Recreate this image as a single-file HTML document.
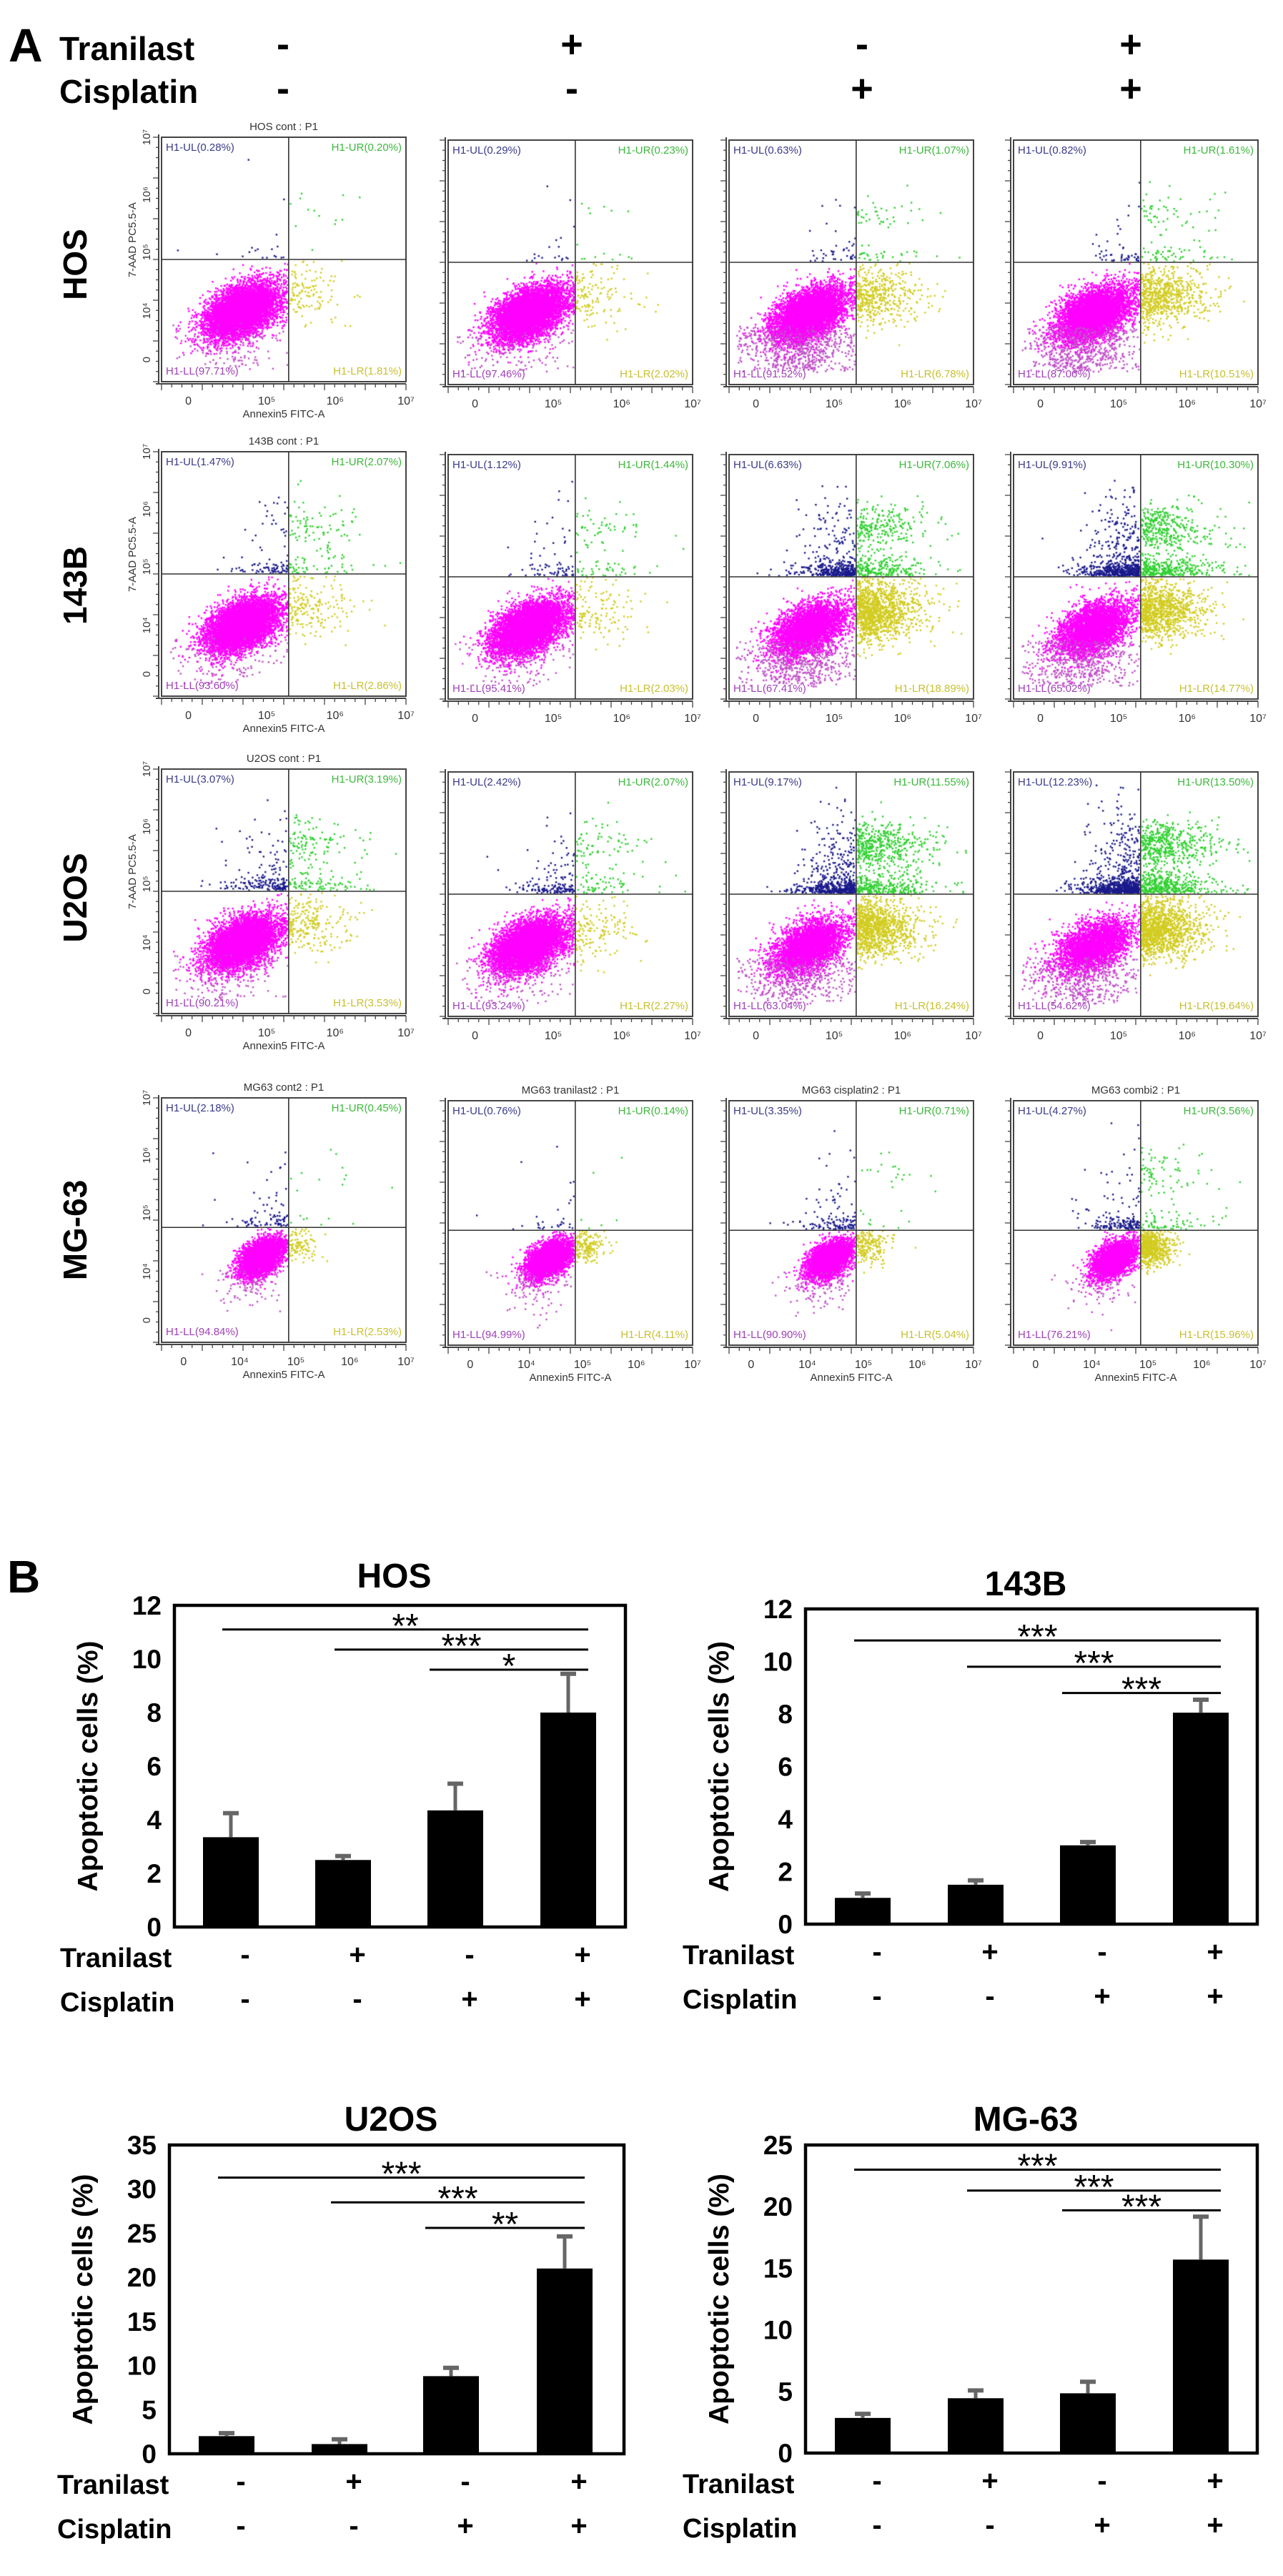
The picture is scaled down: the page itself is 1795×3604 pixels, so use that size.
<!DOCTYPE html>
<html><head><meta charset="utf-8">
<style>
html,body{margin:0;padding:0;background:#fff;}
#wrap{position:relative;width:1795px;height:3604px;overflow:hidden;}
#dots{position:absolute;left:0;top:0;}
#fig{position:absolute;left:0;top:0;}
text{font-family:"Liberation Sans",Arial,sans-serif;}
</style></head>
<body>
<div id="wrap">
<canvas id="dots" width="1795" height="3604"></canvas>
<svg id="fig" width="1795" height="3604" xmlns="http://www.w3.org/2000/svg"></svg>
</div>
<script>
// ===== Panel A data =====
const cellLines = ['HOS','143B','U2OS','MG-63'];
const treatTranilast = ['-','+','-','+'];
const treatCisplatin = ['-','-','+','+'];
const hosQuadrants = [[0.28,0.20,97.71,1.81],[0.29,0.23,97.46,2.02],[0.63,1.07,91.52,6.78],[0.82,1.61,87.06,10.51]];
const b143Quadrants = [[1.47,2.07,93.60,2.86],[1.12,1.44,95.41,2.03],[6.63,7.06,67.41,18.89],[9.91,10.30,65.02,14.77]];
const u2osQuadrants = [[3.07,3.19,90.21,3.53],[2.42,2.07,93.24,2.27],[9.17,11.55,63.04,16.24],[12.23,13.50,54.62,19.64]];
const mg63Quadrants = [[2.18,0.45,94.84,2.53],[0.76,0.14,94.99,4.11],[3.35,0.71,90.90,5.04],[4.27,3.56,76.21,15.96]];
const plotTitles = [['HOS cont : P1','','',''],['143B cont : P1','','',''],['U2OS cont : P1','','',''],['MG63 cont2 : P1','MG63 tranilast2 : P1','MG63 cisplatin2 : P1','MG63 combi2 : P1']];
const xTickLabels = ['0','10⁵','10⁶','10⁷'];
const xTickLabelsMG = ['0','10⁴','10⁵','10⁶','10⁷'];
const yTickLabels = ['10⁷','10⁶','10⁵','10⁴','0'];

// ===== Panel B data =====
const hosValues = [3.35,2.5,4.35,8.0];
const hosErrors = [0.95,0.2,1.05,1.5];
const hosTicks = [0,2,4,6,8,10,12];
const hosSigStars = ['**','***','*'];
const hosSigLevels = [11.1,10.35,9.6];
const b143Values = [1.0,1.5,3.0,8.05];
const b143Errors = [0.22,0.22,0.18,0.55];
const b143Ticks = [0,2,4,6,8,10,12];
const b143SigStars = ['***','***','***'];
const b143SigLevels = [10.8,9.8,8.8];
const u2osValues = [2.0,1.1,8.8,21.0];
const u2osErrors = [0.5,0.7,1.1,3.8];
const u2osTicks = [0,5,10,15,20,25,30,35];
const u2osSigStars = ['***','***','**'];
const u2osSigLevels = [31.3,28.5,25.6];
const mg63Values = [2.85,4.45,4.85,15.7];
const mg63Errors = [0.45,0.75,1.05,3.6];
const mg63Ticks = [0,5,10,15,20,25];
const mg63SigStars = ['***','***','***'];
const mg63SigLevels = [23.0,21.3,19.7];
const sigFrom = [0,1,2];

const NS='http://www.w3.org/2000/svg';
const svg=document.getElementById('fig');
function mk(tag,attrs,parent,txt){const e=document.createElementNS(NS,tag);for(const k in attrs)e.setAttribute(k,attrs[k]);if(txt!==undefined)e.textContent=txt;(parent||svg).appendChild(e);return e;}

// ---------- Panel A header ----------
let t;
t=mk('text',{x:12,y:86,'font-size':66,'font-weight':'bold'},svg,'A');

t=mk('text',{x:83,y:84,'font-size':46,'font-weight':'bold'},svg,'Tranilast');

t=mk('text',{x:83,y:144,'font-size':46,'font-weight':'bold'},svg,'Cisplatin');

const colX=[226,627,1020,1418];
const colCenters=[396,800,1206,1582];
for(let i=0;i<4;i++){
  t=mk('text',{x:colCenters[i],y:80,'font-size':54,'font-weight':'bold','text-anchor':'middle'},svg,treatTranilast[i]);
  
  t=mk('text',{x:colCenters[i],y:142,'font-size':54,'font-weight':'bold','text-anchor':'middle'},svg,treatCisplatin[i]);
  
}

// ---------- flow plots ----------
const rowY=[192,632,1076,1536];
const rowLabelY=[370,819,1256,1721];
const allQuads=[hosQuadrants,b143Quadrants,u2osQuadrants,mg63Quadrants];
const PW=342,PH=342;
const ctx=document.getElementById('dots').getContext('2d');
function rng(seed){return function(){seed|=0;seed=seed+0x6D2B79F5|0;let t=Math.imul(seed^seed>>>15,1|seed);t=t+Math.imul(t^t>>>7,61|t)^t;return((t^t>>>14)>>>0)/4294967296;};}
function gauss(r){let u=r()||1e-6,v=r();return Math.sqrt(-2*Math.log(u))*Math.cos(2*Math.PI*v);}

for(let r=0;r<4;r++){
  t=mk('text',{x:0,y:0,'font-size':46,'font-weight':'bold','text-anchor':'middle',transform:`translate(121,${rowLabelY[r]}) rotate(-90)`},svg,cellLines[r]);
  
  const mg=(r===3);
  for(let c=0;c<4;c++){
    const X=colX[c],Y=rowY[r]+(c>0?4:0);
    const q=allQuads[r][c];
    const gx=0.52, gy=mg?0.53:0.5;
    const g=mk('g',{});
    
    
    const R=rng(r*17+c*5+3);
    const N=mg?4000:6500;
    const cx=mg?0.41:0.33, cy=mg?0.65:0.71;
    const sX=mg?0.045:0.075, sY=mg?0.035:0.05;
    function dot(px,py,col,s){ctx.fillStyle=col;const d=s||2.4;ctx.fillRect(X+px*PW-d/2,Y+py*PH-d/2,d,d);}
    const nLL=Math.round(N*q[2]/100),nLR=Math.round(N*q[3]/100),nUL=Math.round(N*q[0]/100),nUR=Math.round(N*q[1]/100);
    for(let i=0;i<nLL;i++){
      let a=gauss(R),b=gauss(R);
      let px=cx+a*sX, py=cy-a*sY*0.5+b*sY;
      let col='#ff00ff';
      if(R()<(c>=2&&!mg?0.14:0.03)){px=cx-0.05+a*sX*1.5;py=cy+0.05+Math.abs(b)*sY*2.2;col='#c050c8';}
      if(px>gx-0.003)px=gx-0.003-R()*0.03;
      if(py<gy+0.004)py=gy+0.004+R()*0.04;
      if(px<0.03)px=0.03+R()*0.05; if(py>0.95)py=0.88+R()*0.06;
      dot(px,py,col);
    }
    for(let i=0;i<nLR;i++){
      let px=gx+0.004+Math.abs(gauss(R))*(mg?0.06:0.12), py=(mg?0.6:0.64)+gauss(R)*(mg?0.035:0.06);
      if(py<gy+0.004)py=gy+0.004+R()*0.03; if(px>0.98)px=0.9+R()*0.07; if(py>0.95)py=0.9;
      dot(px,py,'#d2cc20');
    }
    for(let i=0;i<nUL;i++){
      let px=gx-0.004-Math.abs(gauss(R))*0.11, py=gy-0.004-Math.abs(gauss(R))*(R()<0.65?0.025:0.16);
      if(px<0.03)px=0.05+R()*0.1; if(py<0.05)py=0.1+R()*0.2;
      dot(px,py,'#1a1a8c');
    }
    for(let i=0;i<nUR;i++){
      let px=gx+0.004+Math.abs(gauss(R))*0.15, py=(R()<0.55?(0.3+gauss(R)*0.05):(gy-0.004-Math.abs(gauss(R))*0.04));
      if(px>0.98)px=0.9+R()*0.07; if(py>gy-0.004)py=gy-0.01; if(py<0.05)py=0.1;
      dot(px,py,'#30d030');
    }
    mk('rect',{x:X,y:Y,width:PW,height:PH,fill:'none',stroke:'#444','stroke-width':2},g);
    mk('line',{x1:X+gx*PW,y1:Y,x2:X+gx*PW,y2:Y+PH,stroke:'#333','stroke-width':1.6},g);
    mk('line',{x1:X,y1:Y+gy*PH,x2:X+PW,y2:Y+gy*PH,stroke:'#333','stroke-width':1.6},g);
    mk('line',{x1:X-8,y1:Y+PH+3,x2:X+PW,y2:Y+PH+3,stroke:'#444','stroke-width':2},g);
    mk('line',{x1:X-4,y1:Y-4,x2:X-4,y2:Y+PH+3,stroke:'#444','stroke-width':2},g);
    for(let k=0;k<=24;k++){mk('line',{x1:X+k*PW/24,y1:Y+PH+3,x2:X+k*PW/24,y2:Y+PH+(k%4===0?12:8),stroke:'#444','stroke-width':1.3},g);}
    for(let k=0;k<=24;k++){mk('line',{x1:X-4,y1:Y+k*PH/24,x2:X-(k%4===0?12:8),y2:Y+k*PH/24,stroke:'#444','stroke-width':1.3},g);}
    const lf=15;
    t=mk('text',{x:X+6,y:Y+19,'font-size':lf,fill:'#3a3a8a'},g,`H1-UL(${q[0].toFixed(2)}%)`);
    
    t=mk('text',{x:X+PW-6,y:Y+19,'font-size':lf,fill:'#3cb83c','text-anchor':'end'},g,`H1-UR(${q[1].toFixed(2)}%)`);
    
    t=mk('text',{x:X+6,y:Y+PH-10,'font-size':lf,fill:'#a040b8'},g,`H1-LL(${q[2].toFixed(2)}%)`);
    
    t=mk('text',{x:X+PW-6,y:Y+PH-10,'font-size':lf,fill:'#c8c030','text-anchor':'end'},g,`H1-LR(${q[3].toFixed(2)}%)`);
    
    if(plotTitles[r][c]){
      t=mk('text',{x:X+PW/2,y:Y-10,'font-size':15,fill:'#333','text-anchor':'middle'},g,plotTitles[r][c]);
      
    }
    const labs=mg?xTickLabelsMG:xTickLabels;
    const pos=mg?[0.09,0.32,0.55,0.77,1.0]:[0.11,0.43,0.71,1.0];
    for(let k=0;k<labs.length;k++){
      t=mk('text',{x:X+pos[k]*PW,y:Y+PH+32,'font-size':16,fill:'#333','text-anchor':'middle'},g,labs[k]);
      
    }
    if(c===0||mg){
      t=mk('text',{x:X+PW*0.5,y:Y+PH+50,'font-size':15,fill:'#333','text-anchor':'middle'},g,'Annexin5 FITC-A');
      
    }
    if(c===0){
      const yp=[0,0.235,0.47,0.71,0.91];
      for(let k=0;k<5;k++){
        t=mk('text',{x:0,y:0,'font-size':15,fill:'#333','text-anchor':'middle',transform:`translate(${X-16},${Y+yp[k]*PH}) rotate(-90)`},g,yTickLabels[k]);
        
      }
      if(!mg){
        t=mk('text',{x:0,y:0,'font-size':15,fill:'#333','text-anchor':'middle',transform:`translate(${X-36},${Y+PH*0.42}) rotate(-90)`},g,'7-AAD PC5.5-A');
        
      }
    }
  }
}

// ---------- Panel B ----------
t=mk('text',{x:10,y:2228,'font-size':64,'font-weight':'bold'},svg,'B');


function barChart(cfg){
  const g=mk('g',{});
  
  
  const {L,R,T,B,centers,ticks,values,errors,stars,levels}=cfg;
  const maxV=ticks[ticks.length-1];
  const yS=v=>B-(v/maxV)*(B-T);
  const bw=78;
  t=mk('text',{x:(L+R)/2-8,y:cfg.titleY,'font-size':48,'font-weight':'bold','text-anchor':'middle'},g,cfg.title);
  
  for(let i=0;i<values.length;i++){
    const b=mk('rect',{x:centers[i]-bw/2,y:yS(values[i]),width:bw,height:B-yS(values[i]),fill:'#000'},g);
    
    const top=yS(values[i]+errors[i]);
    const e=mk('line',{x1:centers[i],y1:yS(values[i]),x2:centers[i],y2:top,stroke:'#666','stroke-width':5},g);
    
    mk('line',{x1:centers[i]-11,y1:top+2,x2:centers[i]+11,y2:top+2,stroke:'#666','stroke-width':6},g);
  }
  const box=mk('rect',{x:L,y:T,width:R-L,height:B-T,fill:'none',stroke:'#000','stroke-width':4.5},g);
  
  for(let k=0;k<ticks.length;k++){
    t=mk('text',{x:L-18,y:yS(ticks[k])+13,'font-size':37,'font-weight':'bold','text-anchor':'end'},g,String(ticks[k]));
    
  }
  t=mk('text',{x:0,y:0,'font-size':39,'font-weight':'bold','text-anchor':'middle',transform:`translate(${L-108},${(T+B)/2}) rotate(-90)`},g,'Apoptotic cells (%)');
  
  const endX=centers[3]+28;
  for(let s=0;s<sigFrom.length;s++){
    const y=yS(levels[s]);
    const sx=centers[sigFrom[s]]-(s===2?36:12);
    const ln=mk('line',{x1:sx,y1:y,x2:endX,y2:y,stroke:'#000','stroke-width':3},g);
    
    t=mk('text',{x:(sx+endX)/2,y:y+11,'font-size':48,'text-anchor':'middle'},g,stars[s]);
    
  }
  t=mk('text',{x:cfg.labX,y:B+56,'font-size':38,'font-weight':'bold'},g,'Tranilast');
  
  t=mk('text',{x:cfg.labX,y:B+118,'font-size':38,'font-weight':'bold'},g,'Cisplatin');
  
  for(let i=0;i<4;i++){
    const cxp=centers[i]+20;
    t=mk('text',{x:cxp,y:B+52,'font-size':40,'font-weight':'bold','text-anchor':'middle'},g,treatTranilast[i]);
    
    t=mk('text',{x:cxp,y:B+114,'font-size':40,'font-weight':'bold','text-anchor':'middle'},g,treatCisplatin[i]);
    
  }
}
const leftCenters=[323,480,637,795];
const rightCenters=[1207,1365,1522,1680];
const leftCentersB=[317,475,631,790];
barChart({key:'hos',title:'HOS',titleY:2221,L:244,R:875,T:2246,B:2696,centers:leftCenters,ticks:hosTicks,values:hosValues,errors:hosErrors,stars:hosSigStars,levels:hosSigLevels,labX:84});
barChart({key:'143b',title:'143B',titleY:2232,L:1127,R:1759,T:2251,B:2692,centers:rightCenters,ticks:b143Ticks,values:b143Values,errors:b143Errors,stars:b143SigStars,levels:b143SigLevels,labX:955});
barChart({key:'u2os',title:'U2OS',titleY:2981,L:237,R:873,T:3001,B:3433,centers:leftCentersB,ticks:u2osTicks,values:u2osValues,errors:u2osErrors,stars:u2osSigStars,levels:u2osSigLevels,labX:80});
barChart({key:'mg63',title:'MG-63',titleY:2981,L:1127,R:1759,T:3001,B:3432,centers:rightCenters,ticks:mg63Ticks,values:mg63Values,errors:mg63Errors,stars:mg63SigStars,levels:mg63SigLevels,labX:955});
</script>
</body></html>
